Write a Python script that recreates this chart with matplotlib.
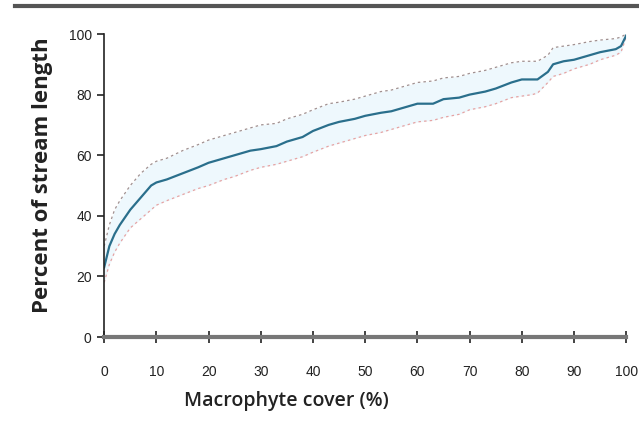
import matplotlib.pyplot as plt
from matplotlib.lines import Line2D

# Macrophyte cover (%) and cumulative percent of stream length
cover = [0, 1, 2, 3, 5, 7, 9, 10, 12, 15, 18, 20, 23, 25, 28, 30, 33, 35, 38, 40,
         43, 45, 48, 50, 53, 55, 58, 60, 63, 65, 68, 70, 73, 75, 78, 80, 82, 83,
         85, 86, 88, 90, 93, 95, 98, 99, 100]
mean = [23, 30, 34, 37, 42, 46, 50, 51, 52, 54, 56, 57.5, 59, 60, 61.5, 62, 63, 64.5,
        66, 68, 70, 71, 72, 73, 74, 74.5, 76, 77, 77, 78.5, 79, 80, 81, 82, 84, 85,
        85, 85, 87.5, 90, 91, 91.5, 93, 94, 95, 96, 99.5]
upper = [30, 37, 42, 45, 50, 54, 57, 58, 59, 61.5, 63.5, 65, 66.5, 67.5, 69, 70, 70.5,
         72, 73.5, 75, 77, 77.5, 78.5, 79.5, 81, 81.5, 83, 84, 84.5, 85.5, 86, 87, 88,
         89, 90.5, 91, 91, 91, 93, 95.5, 96, 96.5, 97.5, 98, 98.5, 99, 100]
lower = [18, 24, 28, 31, 36, 39, 42, 43.5, 45, 47, 49, 50, 52, 53, 55, 56, 57, 58,
         59.5, 61, 63, 64, 65.5, 66.5, 67.5, 68.5, 70, 71, 71.5, 72.5, 73.5, 75, 76,
         77, 79, 79.5, 80, 80.5, 84, 86, 87, 88.5, 90, 91.5, 93, 94, 99]

fig = plt.figure(figsize=(6.39, 4.25), dpi=100)
ax = fig.add_axes([0.163, 0.207, 0.817, 0.713])

# grey bar across the top of the image
fig.add_artist(Line2D([0.023, 1.0], [0.985, 0.985], color='#555555', lw=3,
                      transform=fig.transFigure))

ax.fill_between(cover, lower, upper, color='#eef8fd', lw=0)
ax.plot(cover, upper, color='#a09090', lw=0.9, ls=(0, (2, 2.5)))
ax.plot(cover, lower, color='#e6a3a3', lw=0.9, ls=(0, (2, 2.5)))
ax.plot(cover, mean, color='#2a6f8c', lw=1.6)

ax.set_xlim(0, 100)
ax.set_ylim(0, 100)
ax.set_xticks(range(0, 101, 10))
ax.set_yticks(range(0, 101, 20))

for s in ['top', 'right']:
    ax.spines[s].set_visible(False)
ax.spines['left'].set_color('#222222')
ax.spines['left'].set_linewidth(1.2)
ax.spines['bottom'].set_color('#777777')
ax.spines['bottom'].set_linewidth(3)

ax.tick_params(axis='y', direction='out', length=5, width=1.2, color='#222222',
               labelsize=10, pad=4)
ax.tick_params(axis='x', direction='inout', length=8, width=1.2, color='#222222',
               labelsize=10, pad=16)
for lab in ax.get_xticklabels() + ax.get_yticklabels():
    lab.set_fontfamily('Liberation Sans')
    lab.set_color('#222222')

ax.set_xlabel('Macrophyte cover (%)', fontsize=14, fontweight='semibold',
              fontfamily='Open Sans', color='#222222')
ax.xaxis.set_label_coords(0.349, -0.178)
ax.set_ylabel('Percent of stream length', fontsize=16, fontweight='bold',
              fontfamily='Open Sans', color='#222222')
ax.yaxis.set_label_coords(-0.098, 0.535)

fig.savefig('out.png', dpi=100)
